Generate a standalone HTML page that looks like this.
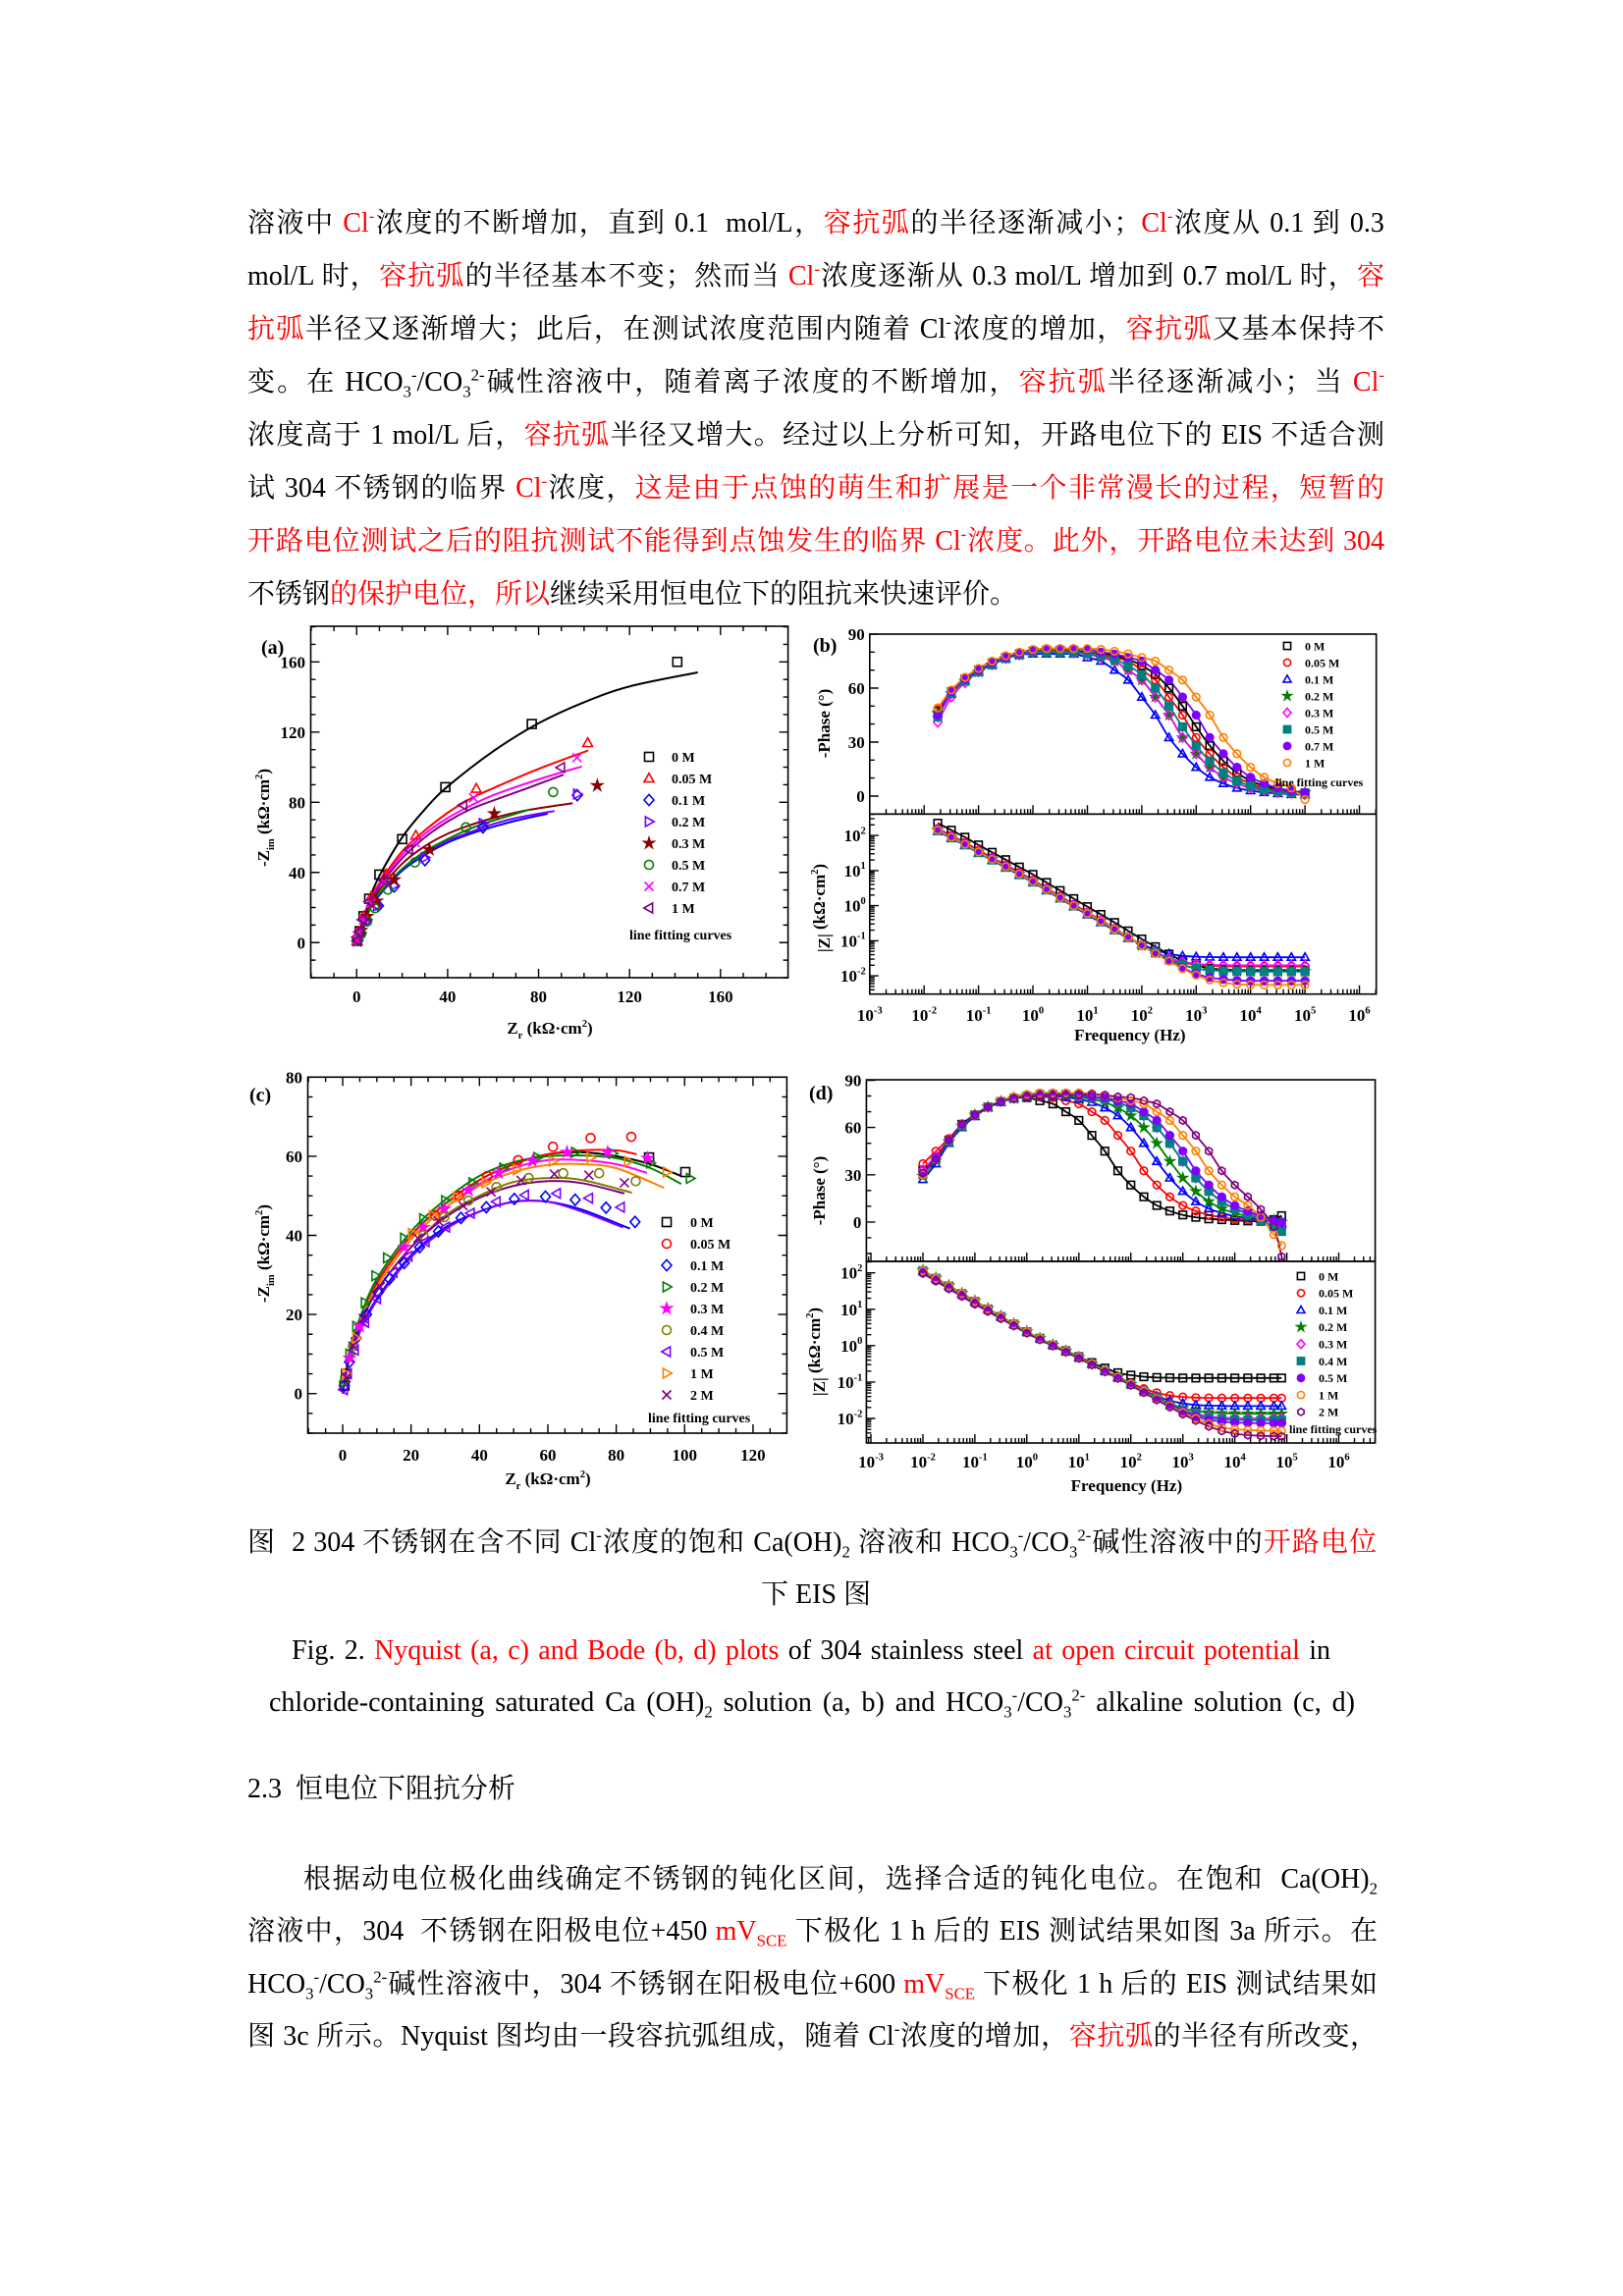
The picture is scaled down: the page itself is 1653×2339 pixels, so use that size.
<!DOCTYPE html>
<html><head><meta charset="utf-8">
<style>
body{margin:0;background:#fff;}
#page{position:relative;width:1653px;height:2339px;overflow:hidden;background:#fff;font-family:"Liberation Serif","Noto Serif CJK SC",serif;font-size:28px;color:#000;}
.ln{position:absolute;left:252px;width:1158px;height:54px;line-height:54px;white-space:nowrap;text-align:justify;text-align-last:justify;}
.ln.l{text-align-last:left;}
.ln.c{text-align:center;text-align-last:center;}
.r{color:#f00;}
sup,sub{font-size:0.6em;line-height:0;}
#charts{position:absolute;left:0;top:0;}
</style></head>
<body>
<div id="page">
<div class="ln" style="top:201px">溶液中 <span class="r">Cl<sup>-</sup></span>浓度的不断增加，直到 0.1&nbsp; mol/L，<span class="r">容抗弧</span>的半径逐渐减小；<span class="r">Cl<sup>-</sup></span>浓度从 0.1 到 0.3</div>
<div class="ln" style="top:255px">mol/L 时，<span class="r">容抗弧</span>的半径基本不变；然而当 <span class="r">Cl<sup>-</sup></span>浓度逐渐从 0.3 mol/L 增加到 0.7 mol/L 时，<span class="r">容</span></div>
<div class="ln" style="top:309px"><span class="r">抗弧</span>半径又逐渐增大；此后，在测试浓度范围内随着 Cl<sup>-</sup>浓度的增加，<span class="r">容抗弧</span>又基本保持不</div>
<div class="ln" style="top:363px">变。在 HCO<sub>3</sub><sup>-</sup>/CO<sub>3</sub><sup>2-</sup>碱性溶液中，随着离子浓度的不断增加，<span class="r">容抗弧</span>半径逐渐减小；当 <span class="r">Cl<sup>-</sup></span></div>
<div class="ln" style="top:417px">浓度高于 1 mol/L 后，<span class="r">容抗弧</span>半径又增大。经过以上分析可知，开路电位下的 EIS 不适合测</div>
<div class="ln" style="top:471px">试 304 不锈钢的临界 <span class="r">Cl<sup>-</sup></span>浓度，<span class="r">这是由于点蚀的萌生和扩展是一个非常漫长的过程，短暂的</span></div>
<div class="ln r" style="top:525px">开路电位测试之后的阻抗测试不能得到点蚀发生的临界 Cl<sup>-</sup>浓度。此外，开路电位未达到 304</div>
<div class="ln l" style="top:579px">不锈钢<span class="r">的保护电位，所以</span>继续采用恒电位下的阻抗来快速评价。</div>

<div class="ln" style="top:1545px;width:1150px">图&nbsp; 2 304 不锈钢在含不同 Cl<sup>-</sup>浓度的饱和 Ca(OH)<sub>2</sub> 溶液和 HCO<sub>3</sub><sup>-</sup>/CO<sub>3</sub><sup>2-</sup>碱性溶液中的<span class="r">开路电位</span></div>
<div class="ln c" style="top:1598px">下 EIS 图</div>
<div class="ln" style="top:1655px;left:297px;width:1058px">Fig. 2. <span class="r">Nyquist (a, c) and Bode (b, d) plots</span> of 304 stainless steel <span class="r">at open circuit potential</span> in</div>
<div class="ln" style="top:1708px;left:274px;width:1106px">chloride-containing saturated Ca (OH)<sub>2</sub> solution (a, b) and HCO<sub>3</sub><sup>-</sup>/CO<sub>3</sub><sup>2-</sup> alkaline solution (c, d)</div>
<div class="ln l" style="top:1796px">2.3&nbsp; 恒电位下阻抗分析</div>
<div class="ln" style="top:1888px;left:309px;width:1094px">根据动电位极化曲线确定不锈钢的钝化区间，选择合适的钝化电位。在饱和&nbsp; Ca(OH)<sub>2</sub></div>
<div class="ln" style="top:1941px;width:1151px">溶液中，304&nbsp; 不锈钢在阳极电位+450 <span class="r">mV<sub>SCE</sub></span> 下极化 1 h 后的 EIS 测试结果如图 3a 所示。在</div>
<div class="ln" style="top:1995px;width:1151px">HCO<sub>3</sub><sup>-</sup>/CO<sub>3</sub><sup>2-</sup>碱性溶液中，304 不锈钢在阳极电位+600 <span class="r">mV<sub>SCE</sub></span> 下极化 1 h 后的 EIS 测试结果如</div>
<div class="ln" style="top:2048px;width:1151px">图 3c 所示。Nyquist 图均由一段容抗弧组成，随着 Cl<sup>-</sup>浓度的增加，<span class="r">容抗弧</span>的半径有所改变，</div>

<svg id="charts" width="1653" height="2339" viewBox="0 0 1653 2339"></svg>
</div>
<script>
// ---------- Panel (a) data: Nyquist, Ca(OH)2 ----------
const aLabels=['0 M','0.05 M','0.1 M','0.2 M','0.3 M','0.5 M','0.7 M','1 M'];
const aMarkZr=[[141,77,39,20,10,5.5,3,1.3,0.2],[101.6,52.6,26,13,6.3,3,1,0.2],[97,55.5,30,16.5,9.6,4.6,2,0.5],[97,55.5,30,16.5,9,4,1.5,0.3],[105.8,60.5,32,16.5,8.8,4.6,2,0.4],[86.4,48,25.6,13.7,8,4.6,2,0.5],[96.9,51.4,25.8,12,6.3,3,1,0.2],[89.8,46.8,23,12,5.5,2.5,1,0.2]];
const aMarkZim=[[160,124.6,88.6,59,38.8,25,15,6.5,1],[113.8,87.7,61,39,26,15,6,1],[84,65.7,47,32,21,13,5.6,1.5],[84.7,68,48.5,32.6,21,12,5,1],[89.5,73.5,53,35.8,23.7,15,7,2],[85.8,65.7,45.7,30.2,19.6,12,5,1],[105.4,82.5,57,34.5,22.4,13,6,1.5],[99.8,78.4,53,35.4,23.3,13,6,1]];
const aFitZr=[[0,3,6,10,20,30,40,60,80,100,120,150],[0,5,10,20,30,40,50,60,80,101.8],[0,5,10,20,30,40,50,60,70,84],[0,5,10,20,30,40,50,60,70,87],[0,5,10,20,30,40,50,60,75,95],[0,5,10,20,30,40,50,60,76.5],[0,5,10,20,30,40,50,60,80,99],[0,5,10,20,30,40,50,60,75,91]];
const aFitZim=[[0,14,26,38,60,76,89,109,125,137,146,154],[0,22,34,52,64,74,82,88,99,109.5],[0,17,27,41,50,57,62,66,69.5,73.5],[0,17,28,42,51,58,63,67.5,71,75],[0,19,30,45,55,62,67,71,75.5,79.5],[0,17,28,42,52,59,65,69.5,76],[0,22,33,50,62,71,78,84,93,100.4],[0,21,32,48,60,69,76,81,88,95.7]];
const aXTicks=[0,40,80,120,160];
const aYTicks=[0,40,80,120,160];

// ---------- Panel (b) data: Bode, Ca(OH)2 ----------
const bLabels=['0 M','0.05 M','0.1 M','0.2 M','0.3 M','0.5 M','0.7 M','1 M'];
const bLogF=[-1.75,-1.5,-1.25,-1,-0.75,-0.5,-0.25,0,0.25,0.5,0.75,1,1.25,1.5,1.75,2,2.25,2.5,2.75,3,3.25,3.5,3.75,4,4.25,4.5,4.75,5];
const bPhase=[
[47,58,65,70,74,77,79,80.5,81,81,81,80,79.2,78,76,72.5,67.5,60,50,38.5,28,19.5,13,8.5,5.7,3.7,2.5,1.7],
[48,58,65,70,74,77,79,80.5,81,81,80.5,79.5,79,77,75,70,64.5,55,45,32.5,23.5,16,10.5,7,4.5,3,2,1.5],
[46,57,64,69,73,76.5,78.5,79,79,79,79,77,75,70,64.5,55,45,32.5,23.5,16,10.5,7,4.5,3,2,1.5,1,0.7],
[46,57,64,69,73,76.5,78.5,80,80,80,79.5,79,77,75,70,64.5,55,45,32.5,23.5,16,10.5,7,4.5,3,2,1.5,2],
[41,55,63,69,73,76.5,78.5,80,80,80,79.5,79,77,75,70,64.5,55,45,32.5,23.5,16,10.5,7,4.5,3,2,1.5,1],
[44,57,64,69,73,76.5,78.5,80,80,80,80,79.2,78,76,72.5,67.5,60,50,38.5,28,19.5,13,8.5,5.7,3.7,2.5,1.7,1.2],
[45,58,65,70,74,77,79,81,82,82,82,81.5,80,79,77,75,70,64.5,55,45,32.5,23.5,16,10.5,7,4.5,3,2],
[49,59,66,71,75,78,80,81.5,82,82,82,82,81.5,80.5,79,77,75,70,64.5,55,45,32.5,23.5,16,10.5,7,4.5,-2]];
const bLogZ=[
[2.35,2.15,1.95,1.73,1.52,1.31,1.1,0.89,0.66,0.43,0.2,-0.03,-0.25,-0.48,-0.72,-0.95,-1.17,-1.38,-1.57,-1.70,-1.785,-1.82,-1.83,-1.84,-1.84,-1.84,-1.84,-1.84],
[2.2,2.0,1.8,1.58,1.37,1.16,0.95,0.73,0.5,0.27,0.04,-0.19,-0.41,-0.65,-0.89,-1.12,-1.325,-1.50,-1.62,-1.685,-1.713,-1.725,-1.73,-1.73,-1.73,-1.73,-1.73,-1.73],
[2.12,1.92,1.72,1.5,1.29,1.08,0.87,0.66,0.43,0.2,-0.03,-0.26,-0.48,-0.71,-0.93,-1.1,-1.26,-1.37,-1.43,-1.455,-1.465,-1.47,-1.47,-1.47,-1.47,-1.47,-1.47,-1.47],
[2.15,1.95,1.75,1.53,1.32,1.11,0.9,0.69,0.46,0.23,0.0,-0.22,-0.44,-0.67,-0.9,-1.13,-1.34,-1.535,-1.69,-1.79,-1.84,-1.86,-1.87,-1.87,-1.87,-1.87,-1.87,-1.87],
[2.18,1.98,1.78,1.56,1.35,1.14,0.93,0.72,0.49,0.26,0.03,-0.2,-0.42,-0.65,-0.89,-1.12,-1.32,-1.49,-1.60,-1.66,-1.685,-1.695,-1.70,-1.70,-1.70,-1.70,-1.70,-1.70],
[2.13,1.93,1.73,1.51,1.3,1.09,0.88,0.67,0.45,0.22,-0.01,-0.23,-0.45,-0.68,-0.9,-1.13,-1.34,-1.535,-1.69,-1.79,-1.84,-1.86,-1.87,-1.88,-1.88,-1.88,-1.88,-1.88],
[2.17,1.97,1.77,1.55,1.34,1.13,0.92,0.71,0.48,0.25,0.02,-0.21,-0.43,-0.66,-0.9,-1.13,-1.36,-1.57,-1.77,-1.94,-2.05,-2.10,-2.13,-2.14,-2.14,-2.14,-2.14,-2.14],
[2.15,1.95,1.75,1.53,1.32,1.11,0.9,0.69,0.46,0.23,0.0,-0.22,-0.44,-0.67,-0.9,-1.13,-1.36,-1.58,-1.795,-1.98,-2.12,-2.20,-2.24,-2.255,-2.26,-2.26,-2.26,-2.26]];

// ---------- Panel (c) data: Nyquist, HCO3-/CO3 2- ----------
const cLabels=['0 M','0.05 M','0.1 M','0.2 M','0.3 M','0.4 M','0.5 M','1 M','2 M'];
const cMarkZr=[[100.2,89.6,1,0.5],[84.4,72.5,61.5,51.3,42.3,34,27],[85.5,77,68,59.3,50.2,42,34.6,28,22.5,18,13.7,10.4,7,4,2,0.5],[101.6,90,79,68,57,47,38,30,23.6,18,13,9.6,6.5,4,2,0.5],[89.2,77.5,65.6,55.5,45.6,36.8,29.7,23.6,18,5,2],[85.7,75,64.5,54.4,45,36.8,29.7,23.6,3],[81.3,72,62.6,53.3,45,37.4,30.2,24.2,19.2,14.8,10,6.5,3.5,1.5,0.3],[94.8,83.5,72.5,61.5,51,41.8,33.5,26.4,20.3,4,1],[82.4,72,61.9,52.2,43.4,35.2,28,22,11,6,3,1]];
const cMarkZim=[[56,59.7,5,2],[64.9,64.6,62.4,59,55,50,45],[43.4,47,49,49.8,49.2,47.1,44.4,41,37,33,29,25.6,20,14,8,2],[54.4,58.3,60.7,61,59.7,57,53.3,48.8,44.2,39.3,34.3,29.8,23,17,10,3],[59.5,61,61,58.8,55.8,51.4,46.7,42,37,17,9],[53.7,55.7,55.7,54.5,52.2,48.8,44.6,40,12],[47.1,49.4,50.6,50.2,48.5,45.6,42.1,38.4,34.7,30.6,24,18,11,5,1],[56,58.7,59.7,58.8,56.6,53.3,49.6,45,40.5,14,5],[53.3,55.2,55.5,53.9,51,47.5,43.6,39.3,27,19,12,4]];
const cFitZr=[[0,2,5,10,20,30,40,50,60,70,80,90,99],[0,2,5,10,20,30,40,50,60,70,80,86],[0,2,5,10,20,30,40,50,60,70,84],[0,2,5,10,20,30,40,50,60,70,80,90,99],[0,2,5,10,20,30,40,50,60,70,80,89],[0,2,5,10,20,30,40,50,60,70,84.6],[0,2,5,10,20,30,40,50,60,70,82],[0,2,5,10,20,30,40,50,60,70,80,94],[0,2,5,10,20,30,40,50,60,70,82.4]];
const cFitZim=[[0,10,18,28,40,48,54,58,60.5,61,60,58,55],[0,10,18,28,40,48,54,58,60.5,61.5,61.5,60.5],[0,9,16,24,35,42,46,48.5,48.5,46.5,41.7],[0,11,19,29,41,49,55,58.5,60,60.2,59.5,57,53],[0,10,18,27,39,47,53,57,59,59,58,55.8],[0,10,17,26,37,45,50,53.5,54.5,54,50.8],[0,9,15.5,23.5,34.5,41.5,46,48.5,48.5,46,42],[0,10,18,27,39,47,52.5,56,57.8,58,57,52],[0,10,17,26,37,44.5,49.5,52.5,53.7,53.2,50.6]];
const cXTicks=[0,20,40,60,80,100,120];
const cYTicks=[0,20,40,60,80];

// ---------- Panel (d) data: Bode, HCO3-/CO3 2- ----------
const dLabels=['0 M','0.05 M','0.1 M','0.2 M','0.3 M','0.4 M','0.5 M','1 M','2 M'];
const dLogF=[-2,-1.75,-1.5,-1.25,-1,-0.75,-0.5,-0.25,0,0.25,0.5,0.75,1,1.25,1.5,1.75,2,2.25,2.5,2.75,3,3.25,3.5,3.75,4,4.25,4.5,4.75,4.9];
const dPhase=[
[33,40,52,62,68,73,76.5,78.5,79,77,75,70,64.5,55,45,32.5,23.5,16,10.5,7,4.5,3,2,1.5,1,0.7,0.5,1.5,4],
[37,45,53,62,68,73,76.5,78.5,79.5,79.5,79,77,75,70,64.5,55,45,32.5,23.5,16,10.5,7,4.5,3,2,1.5,1,0,-1],
[27,37,50,60,67,72.5,76,78.5,79.5,80,80,79.2,78,76,72.5,67.5,60,50,38.5,28,19.5,13,8.5,5.7,3.7,2.5,1.7,0,-1],
[29,39,51,61,68,73,76.5,78.5,80,80.5,80.5,80,79.2,78,76,72.5,67.5,60,50,38.5,28,19.5,13,8.5,5.7,3.7,2.5,1,0],
[33,42,52,62,68,73,76.5,78.5,80,81,81,81,80,79.2,78,76,72.5,67.5,60,50,38.5,28,19.5,13,8.5,5.7,3,-1,-4],
[30,40,51,61,68,73,76.5,78.5,80,81,81,81,80,79.2,78,76,72.5,67.5,60,50,38.5,28,19.5,13,8.5,5,1,-3,-6],
[31,41,52,62,68,73,76.5,78.5,80,81,81,81,80.5,79.5,79,77,75,70,64.5,55,45,32.5,23.5,16,10.5,7,4,1,0],
[30,40,52,62,68,73,77,79.5,81,82,82,82,82,81.5,80.5,79,77,75,70,64.5,55,45,32.5,23.5,16,10.5,3,-8,-15],
[31,40,52,62,68,73,76.5,78.5,79.5,80,80,80.5,81,81,80.5,79.5,79,77,75,70,64.5,55,45,32.5,23.5,16,8,-3,-22]];
const dLogZ=[
[2.05,1.84,1.63,1.42,1.21,1.0,0.8,0.59,0.38,0.2,0.02,-0.14,-0.305,-0.467,-0.617,-0.745,-0.81,-0.855,-0.875,-0.884,-0.89,-0.89,-0.89,-0.89,-0.89,-0.89,-0.89,-0.89,-0.89],
[2.05,1.84,1.63,1.42,1.21,1.0,0.8,0.59,0.38,0.2,0.02,-0.15,-0.32,-0.5,-0.68,-0.855,-1.025,-1.18,-1.295,-1.37,-1.41,-1.428,-1.435,-1.44,-1.44,-1.44,-1.44,-1.44,-1.44],
[2.06,1.85,1.64,1.43,1.22,1.01,0.8,0.59,0.38,0.2,0.02,-0.15,-0.32,-0.5,-0.69,-0.865,-1.047,-1.228,-1.387,-1.509,-1.587,-1.628,-1.647,-1.655,-1.66,-1.66,-1.66,-1.66,-1.66],
[2.07,1.86,1.65,1.44,1.23,1.02,0.81,0.6,0.39,0.2,0.02,-0.15,-0.32,-0.5,-0.69,-0.87,-1.06,-1.247,-1.43,-1.59,-1.72,-1.795,-1.837,-1.856,-1.865,-1.87,-1.87,-1.87,-1.87],
[2.05,1.84,1.63,1.42,1.21,1.0,0.8,0.59,0.38,0.2,0.02,-0.15,-0.32,-0.5,-0.69,-0.87,-1.06,-1.26,-1.442,-1.62,-1.77,-1.875,-1.94,-1.975,-1.99,-2.0,-2.0,-2.0,-2.0],
[2.06,1.85,1.64,1.43,1.22,1.01,0.8,0.59,0.38,0.2,0.02,-0.15,-0.32,-0.5,-0.69,-0.87,-1.06,-1.26,-1.447,-1.627,-1.78,-1.90,-1.977,-2.018,-2.037,-2.045,-2.05,-2.05,-2.05],
[2.04,1.83,1.62,1.41,1.2,0.99,0.79,0.58,0.37,0.19,0.01,-0.16,-0.33,-0.51,-0.7,-0.88,-1.07,-1.27,-1.465,-1.635,-1.805,-1.94,-2.04,-2.087,-2.11,-2.122,-2.13,-2.13,-2.13],
[2.06,1.85,1.64,1.43,1.22,1.01,0.8,0.59,0.38,0.2,0.02,-0.15,-0.32,-0.5,-0.69,-0.87,-1.06,-1.26,-1.46,-1.66,-1.837,-2.0,-2.145,-2.25,-2.295,-2.32,-2.333,-2.34,-2.34],
[1.98,1.77,1.56,1.35,1.14,0.94,0.74,0.54,0.34,0.16,-0.01,-0.18,-0.35,-0.53,-0.72,-0.9,-1.09,-1.29,-1.49,-1.69,-1.88,-2.06,-2.217,-2.34,-2.417,-2.458,-2.477,-2.485,-2.49]];
const phaseTicks=[0,30,60,90];
const logZTicks=[-2,-1,0,1,2];
const logFTicks=[-3,-2,-1,0,1,2,3,4,5,6];

// ---------- styles (not data) ----------
const aColors=['#000','#f00','#00f','#7a00ff','#8b0000','#008000','#ff00ff','#800080'];
const aShapes=['sq','tri','dia','triR','star','circ','x','triL'];
const bColors=['#000','#f00','#00f','#008000','#ff00ff','#008080','#8000ff','#ff8000'];
const bShapes=['sq','circ','tri','star','dia','fsq','fcirc','circ'];
const cColors=['#000','#f00','#00f','#008000','#ff00ff','#808000','#8000ff','#ff8000','#800080'];
const cShapes=['sq','circ','dia','triR','star','circ','triL','triR','x'];
const dColors=['#000','#f00','#00f','#008000','#ff00ff','#008080','#8000ff','#ff8000','#800080'];
const dShapes=['sq','circ','tri','star','dia','fsq','fcirc','circ','hex'];

const NS='http://www.w3.org/2000/svg';
const svg=document.getElementById('charts');
const FONT='"Liberation Serif","Noto Serif CJK SC",serif';
function mk(tag,parent){const e=document.createElementNS(NS,tag);parent.appendChild(e);return e;}
function lin(d0,d1,p0,p1){return v=>p0+(v-d0)*(p1-p0)/(d1-d0);}
function smooth(pts){
  let d='M'+pts[0][0].toFixed(1)+','+pts[0][1].toFixed(1);
  for(let i=0;i<pts.length-1;i++){
    const p0=pts[i-1]||pts[i],p1=pts[i],p2=pts[i+1],p3=pts[i+2]||p2;
    const c1x=p1[0]+(p2[0]-p0[0])/6,c1y=p1[1]+(p2[1]-p0[1])/6,c2x=p2[0]-(p3[0]-p1[0])/6,c2y=p2[1]-(p3[1]-p1[1])/6;
    d+=' C'+c1x.toFixed(1)+','+c1y.toFixed(1)+' '+c2x.toFixed(1)+','+c2y.toFixed(1)+' '+p2[0].toFixed(1)+','+p2[1].toFixed(1);
  }
  return d;
}
function txt(parent,x,y,str,size,anchor,weight){
  const t=mk('text',parent);
  t.setAttribute('x',x);t.setAttribute('y',y);
  t.setAttribute('font-size',size);t.setAttribute('font-family',FONT);
  t.setAttribute('text-anchor',anchor||'start');
  t.setAttribute('font-weight',weight||'bold');
  t.textContent=str;
  return t;
}
function marker(g,shape,x,y,color,s){
  let e;const st=1.6;
  if(shape==='sq'||shape==='fsq'){
    e=mk('rect',g);e.setAttribute('x',x-s);e.setAttribute('y',y-s);e.setAttribute('width',2*s);e.setAttribute('height',2*s);
    e.setAttribute('fill',shape==='fsq'?color:'none');
  } else if(shape==='circ'||shape==='fcirc'){
    e=mk('circle',g);e.setAttribute('cx',x);e.setAttribute('cy',y);e.setAttribute('r',s);
    e.setAttribute('fill',shape==='fcirc'?color:'none');
  } else {
    let p;
    if(shape==='tri') p=[[x,y-s*1.15],[x+s*1.1,y+s*0.8],[x-s*1.1,y+s*0.8]];
    else if(shape==='triR') p=[[x+s*1.15,y],[x-s*0.8,y-s*1.1],[x-s*0.8,y+s*1.1]];
    else if(shape==='triL') p=[[x-s*1.15,y],[x+s*0.8,y-s*1.1],[x+s*0.8,y+s*1.1]];
    else if(shape==='dia') p=[[x,y-s*1.25],[x+s*1.1,y],[x,y+s*1.25],[x-s*1.1,y]];
    else if(shape==='hex'){p=[];for(let k=0;k<6;k++){const a=Math.PI/3*k-Math.PI/2;p.push([x+s*Math.cos(a),y+s*Math.sin(a)]);}}
    else if(shape==='star'){p=[];for(let k=0;k<10;k++){const a=Math.PI/5*k-Math.PI/2,r=k%2?s*0.45:s*1.2;p.push([x+r*Math.cos(a),y+r*Math.sin(a)]);}}
    if(shape==='x'){
      e=mk('path',g);e.setAttribute('d','M'+(x-s)+','+(y-s)+'L'+(x+s)+','+(y+s)+'M'+(x-s)+','+(y+s)+'L'+(x+s)+','+(y-s));
      e.setAttribute('fill','none');
    } else {
      e=mk('polygon',g);e.setAttribute('points',p.map(q=>q[0].toFixed(1)+','+q[1].toFixed(1)).join(' '));
      e.setAttribute('fill',shape==='star'?color:'none');
    }
  }
  e.setAttribute('stroke',color);e.setAttribute('stroke-width',st);
  return e;
}
function frame(g,x0,y0,x1,y1){
  const r=mk('rect',g);
  r.setAttribute('x',x0);r.setAttribute('y',y0);r.setAttribute('width',x1-x0);r.setAttribute('height',y1-y0);
  r.setAttribute('fill','none');r.setAttribute('stroke','#000');r.setAttribute('stroke-width',1.6);
  return r;
}
function tickPath(g,d){
  const p=mk('path',g);p.setAttribute('d',d);p.setAttribute('stroke','#000');p.setAttribute('stroke-width',1.4);p.setAttribute('fill','none');
  return p;
}
function linTicks(box,sx,sy,xdom,ydom,xstepMaj,xstepMin,ystepMaj,ystepMin){
  let d='';
  const [x0,y0,x1,y1]=box;
  for(let v=Math.ceil(xdom[0]/xstepMin)*xstepMin;v<=xdom[1];v+=xstepMin){
    const X=sx(v),L=(Math.abs(v/xstepMaj-Math.round(v/xstepMaj))<1e-6)?9:5;
    d+='M'+X+','+y1+'v'+(-L)+'M'+X+','+y0+'v'+L;
  }
  for(let v=Math.ceil(ydom[0]/ystepMin)*ystepMin;v<=ydom[1];v+=ystepMin){
    const Y=sy(v),L=(Math.abs(v/ystepMaj-Math.round(v/ystepMaj))<1e-6)?9:5;
    d+='M'+x0+','+Y+'h'+L+'M'+x1+','+Y+'h'+(-L);
  }
  return d;
}
function logXTicks(sx,x0,x1,ybot,dom){
  let d='';
  for(let e=Math.floor(dom[0]);e<=dom[1];e++){
    for(let m=1;m<10;m++){
      const v=e+Math.log10(m);if(v<dom[0]||v>dom[1])continue;
      const X=sx(v);d+='M'+X.toFixed(1)+','+ybot+'v'+(m===1?-9:-5);
    }
  }
  return d;
}
function logYTicks(sy,x0,dom){
  let d='';
  for(let e=Math.floor(dom[0]);e<=dom[1];e++){
    for(let m=1;m<10;m++){
      const v=e+Math.log10(m);if(v<dom[0]||v>dom[1])continue;
      d+='M'+x0+','+sy(v).toFixed(1)+'h'+(m===1?9:5);
    }
  }
  return d;
}
function powLabel(g,x,y,exp,size,anchor){
  const t=txt(g,x,y,'10',size,anchor);
  const s=mk('tspan',t);s.setAttribute('dy',-size*0.45);s.setAttribute('font-size',size*0.62);s.textContent=String(exp);
  return t;
}
function rotTitle(g,x,y,parts,size){
  const t=mk('text',g);
  t.setAttribute('x',x);t.setAttribute('y',y);t.setAttribute('font-size',size);t.setAttribute('font-family',FONT);
  t.setAttribute('font-weight','bold');t.setAttribute('text-anchor','middle');
  t.setAttribute('transform','rotate(-90 '+x+' '+y+')');
  parts.forEach(p=>{const s=mk('tspan',t);s.textContent=p[0];if(p[1])s.setAttribute('dy',p[1]);if(p[2])s.setAttribute('font-size',p[2]);});
  return t;
}
function kohm(g,x,y,prefix,sub,size,rot){
  const parts=[[prefix],[sub,size*0.3,size*0.62],[' (kΩ·cm',-size*0.3],['2',-size*0.4,size*0.62],[')',size*0.4]];
  if(rot) return rotTitle(g,x,y,parts,size);
  const t=mk('text',g);
  t.setAttribute('x',x);t.setAttribute('y',y);t.setAttribute('font-size',size);t.setAttribute('font-family',FONT);
  t.setAttribute('font-weight','bold');t.setAttribute('text-anchor','middle');
  parts.forEach(p=>{const s=mk('tspan',t);s.textContent=p[0];if(p[1])s.setAttribute('dy',p[1]);if(p[2])s.setAttribute('font-size',p[2]);});
  return t;
}
function legend(g,labels,colors,shapes,mx,tx,y0,dy,size,ms,lfx,lfy){
  labels.forEach((lab,i)=>{
    const m=marker(g,shapes[i],mx,y0+i*dy,colors[i],ms);
    
    
    const t=txt(g,tx,y0+i*dy+size*0.36,lab,size,'start');
    
    
  });
  const lf=txt(g,lfx,lfy,'line fitting curves',size,'start');
  
  
}

// ================= Panel (a) =================
(function(){
  const g=mk('g',svg);
  
  
  const box=[316.5,638,802.6,996];
  const xd=[-20.2,189.7],yd=[-20,180.3];
  const sx=lin(xd[0],xd[1],box[0],box[2]),sy=lin(yd[0],yd[1],box[3],box[1]);
  const f=frame(g,box[0],box[1],box[2],box[3]);
  
  
  const tk=tickPath(g,linTicks(box,sx,sy,xd,yd,40,10,40,10));
  
  
  aXTicks.forEach(v=>{const t=txt(g,sx(v),1021,String(v),17,'middle');
    
    });
  aYTicks.forEach(v=>{const t=txt(g,311,sy(v)+6,String(v),17,'end');
    
    });
  const xt=kohm(g,560,1053,'Z','r',17,false);
  
  
  const yt=kohm(g,274,833,'-Z','im',17,true);
  
  
  const pl=txt(g,266,666,'(a)',20,'start');
  
  
  aLabels.forEach((lab,i)=>{
    const pts=aFitZr[i].map((v,j)=>[sx(v),sy(aFitZim[i][j])]);
    const ln=mk('path',g);
    ln.setAttribute('d',smooth(pts));ln.setAttribute('fill','none');ln.setAttribute('stroke',aColors[i]);ln.setAttribute('stroke-width',2);
    
    
  });
  aLabels.forEach((lab,i)=>{
    aMarkZr[i].forEach((v,j)=>{
      const m=marker(g,aShapes[i],sx(v),sy(aMarkZim[i][j]),aColors[i],4.5);
      
      
    });
  });
  legend(g,aLabels,aColors,aShapes,661,684,771,22,14,4.5,641,957);
})();

// ================= Bode helper =================
function bode(cfg){
  const g=mk('g',svg);
  
  
  const [x0,y0,ym,y1]=cfg.box,x1=cfg.x1;
  const sx=lin(cfg.xd[0],cfg.xd[1],x0,x1);
  const sp=lin(cfg.pd[0],cfg.pd[1],ym,y0);
  const sz=lin(cfg.zd[0],cfg.zd[1],y1,ym);
  const f1=frame(g,x0,y0,x1,ym);
  
  
  const f2=frame(g,x0,ym,x1,y1);
  
  
  let d=logXTicks(sx,x0,x1,ym,cfg.xd)+logXTicks(sx,x0,x1,y1,cfg.xd)+logYTicks(sz,x0,cfg.zd);
  for(let v=Math.ceil(cfg.pd[0]/10)*10;v<=cfg.pd[1];v+=10){d+='M'+x0+','+sp(v).toFixed(1)+'h'+(v%30===0?9:5);}
  const tk=tickPath(g,d);
  
  
  logFTicks.forEach(e=>{const t=powLabel(g,sx(e),cfg.xlabY,e,17,'middle');
    
    });
  phaseTicks.forEach(v=>{const t=txt(g,x0-5,sp(v)+6,String(v),17,'end');
    
    });
  logZTicks.forEach(e=>{const t=powLabel(g,x0-4,sz(e)+6,e,17,'end');
    
    });
  const xt=txt(g,(x0+cfg.xlabCenter),cfg.xtitleY,'Frequency (Hz)',17,'middle');
  
  
  const pt=rotTitle(g,cfg.ytitleX,cfg.phaseTitleY,[['-Phase (°)']],17);
  
  
  const zt=kohm(g,cfg.ytitleX,cfg.zTitleY,'|Z|','',17,true);
  
  
  const pl=txt(g,cfg.labX,cfg.labY,cfg.lab,20,'start');
  
  
  cfg.labels.forEach((lab,i)=>{
    const pp=cfg.logF.map((v,j)=>[sx(v),sp(cfg.phase[i][j])]);
    const l1=mk('path',g);
    l1.setAttribute('d',smooth(pp));l1.setAttribute('fill','none');l1.setAttribute('stroke',cfg.colors[i]);l1.setAttribute('stroke-width',1.8);
    
    
    const pz=cfg.logF.map((v,j)=>[sx(v),sz(cfg.logZ[i][j])]);
    const l2=mk('path',g);
    l2.setAttribute('d',smooth(pz));l2.setAttribute('fill','none');l2.setAttribute('stroke',cfg.colors[i]);l2.setAttribute('stroke-width',1.8);
    
    
  });
  cfg.labels.forEach((lab,i)=>{
    cfg.logF.forEach((v,j)=>{
      const m1=marker(g,cfg.shapes[i],sx(v),sp(cfg.phase[i][j]),cfg.colors[i],3.8);
      
      
      const m2=marker(g,cfg.shapes[i],sx(v),sz(cfg.logZ[i][j]),cfg.colors[i],3.8);
      
      
    });
  });
  legend(g,cfg.labels,cfg.colors,cfg.shapes,cfg.leg[0],cfg.leg[1],cfg.leg[2],cfg.leg[3],12,3.6,cfg.leg[4],cfg.leg[5]);
}
bode({name:'panel-b-bode',box:[885.8,646,829.3,1012.7],x1:1401.7,xd:[-3,6.31],pd:[-10,90],zd:[-2.52,2.61],
  logF:bLogF,phase:bPhase,logZ:bLogZ,labels:bLabels,colors:bColors,shapes:bShapes,
  xlabY:1040,xlabCenter:265,xtitleY:1060,ytitleX:845,phaseTitleY:737,zTitleY:925,lab:'(b)',labX:828,labY:664,
  leg:[1311,1329,658,17,1299,801]});
bode({name:'panel-d-bode',box:[882.4,1100,1285,1470],x1:1400.6,xd:[-3.087,6.7],pd:[-25,90.3],zd:[-2.674,2.315],
  logF:dLogF,phase:dPhase,logZ:dLogZ,labels:dLabels,colors:dColors,shapes:dShapes,
  xlabY:1495,xlabCenter:265,xtitleY:1519,ytitleX:840,phaseTitleY:1213,zTitleY:1377,lab:'(d)',labX:824,labY:1120,
  leg:[1325,1343,1300,17.3,1313,1460]});

// ================= Panel (c) =================
(function(){
  const g=mk('g',svg);
  
  
  const box=[313.5,1097.3,801.4,1460];
  const xd=[-10.2,129.9],yd=[-10,80];
  const sx=lin(xd[0],xd[1],box[0],box[2]),sy=lin(yd[0],yd[1],box[3],box[1]);
  const f=frame(g,box[0],box[1],box[2],box[3]);
  
  
  const tk=tickPath(g,linTicks(box,sx,sy,xd,yd,20,5,20,5));
  
  
  cXTicks.forEach(v=>{const t=txt(g,sx(v),1488,String(v),17,'middle');
    
    });
  cYTicks.forEach(v=>{const t=txt(g,308,sy(v)+6,String(v),17,'end');
    
    });
  const xt=kohm(g,558,1512,'Z','r',17,false);
  
  
  const yt=kohm(g,274,1277,'-Z','im',17,true);
  
  
  const pl=txt(g,254,1122,'(c)',20,'start');
  
  
  cLabels.forEach((lab,i)=>{
    const pts=cFitZr[i].map((v,j)=>[sx(v),sy(cFitZim[i][j])]);
    const ln=mk('path',g);
    ln.setAttribute('d',smooth(pts));ln.setAttribute('fill','none');ln.setAttribute('stroke',cColors[i]);ln.setAttribute('stroke-width',2);
    
    
  });
  cLabels.forEach((lab,i)=>{
    cMarkZr[i].forEach((v,j)=>{
      const m=marker(g,cShapes[i],sx(v),sy(cMarkZim[i][j]),cColors[i],4.5);
      
      
    });
  });
  legend(g,cLabels,cColors,cShapes,679,703,1245,22,14,4.5,660,1449);
})();
</script>
</body></html>
